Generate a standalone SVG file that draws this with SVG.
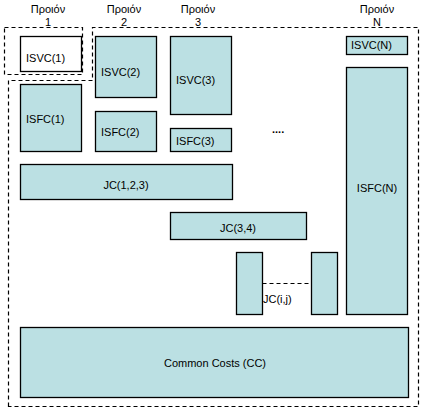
<svg xmlns="http://www.w3.org/2000/svg" width="425" height="413" viewBox="0 0 425 413">
<style>
.b{fill:#bbe0e3;stroke:#000;stroke-width:1.3}
.w{fill:#fff;stroke:#000;stroke-width:1.3}
.d{fill:none;stroke:#000;stroke-width:1.2;stroke-dasharray:4 3}
text{font-family:"Liberation Sans",Arial,sans-serif;font-size:11px;fill:#000}
.m{text-anchor:middle}
</style>
<rect width="425" height="413" fill="#fff"/>
<g id="labels">
<text class="m" x="48" y="13">Προιόν</text><text class="m" x="48" y="26">1</text>
<text class="m" x="124" y="13">Προιόν</text><text class="m" x="124" y="26">2</text>
<text class="m" x="198" y="13">Προιόν</text><text class="m" x="198" y="26">3</text>
<text class="m" x="377" y="13">Προιόν</text><text class="m" x="377" y="26">N</text>
</g>
<g id="groups">
<rect class="d" x="4.5" y="27.5" width="78" height="47"/>
<path class="d" d="M8.5 406.5V80.5H92.5V27.5H418.5V406.5Z"/>
</g>
<g id="isvc1"><rect class="w" x="20.5" y="36.5" width="61" height="35"/><text x="26" y="62">ISVC(1)</text></g>
<g id="isvc2"><rect class="b" x="95.5" y="36.5" width="61" height="61"/><text x="101" y="76">ISVC(2)</text></g>
<g id="isvc3"><rect class="b" x="170.5" y="36.5" width="61" height="78"/><text x="176" y="84">ISVC(3)</text></g>
<g id="isvcN"><rect class="b" x="346.5" y="36.5" width="61" height="18"/><text x="351" y="49">ISVC(N)</text></g>
<g id="isfc1"><rect class="b" x="20.5" y="84.5" width="61" height="67"/><text x="26" y="123">ISFC(1)</text></g>
<g id="isfc2"><rect class="b" x="95.5" y="111.5" width="61" height="40"/><text x="101" y="136">ISFC(2)</text></g>
<g id="isfc3"><rect class="b" x="170.5" y="128.5" width="61" height="23"/><text x="176" y="145">ISFC(3)</text></g>
<g id="dots"><text x="272" y="133" font-weight="bold">....</text></g>
<g id="isfcN"><rect class="b" x="346.5" y="67.5" width="61" height="247"/><text class="m" x="377" y="192">ISFC(N)</text></g>
<g id="jc123"><rect class="b" x="20.5" y="164.5" width="212" height="35"/><text class="m" x="126" y="189">JC(1,2,3)</text></g>
<g id="jc34"><rect class="b" x="170.5" y="212.5" width="136" height="27"/><text class="m" x="238" y="232">JC(3,4)</text></g>
<g id="jcij">
<rect class="b" x="236.5" y="252.5" width="26" height="62"/>
<rect class="b" x="311.5" y="252.5" width="26" height="62"/>
<text x="263" y="303">JC(i,j)</text>
</g>
<g id="cc"><rect class="b" x="20.5" y="327.5" width="388" height="70"/><text class="m" x="215" y="367">Common Costs (CC)</text></g>
<g id="connectors"><line class="d" x1="262.5" y1="283.5" x2="311.5" y2="283.5"/></g>
</svg>
